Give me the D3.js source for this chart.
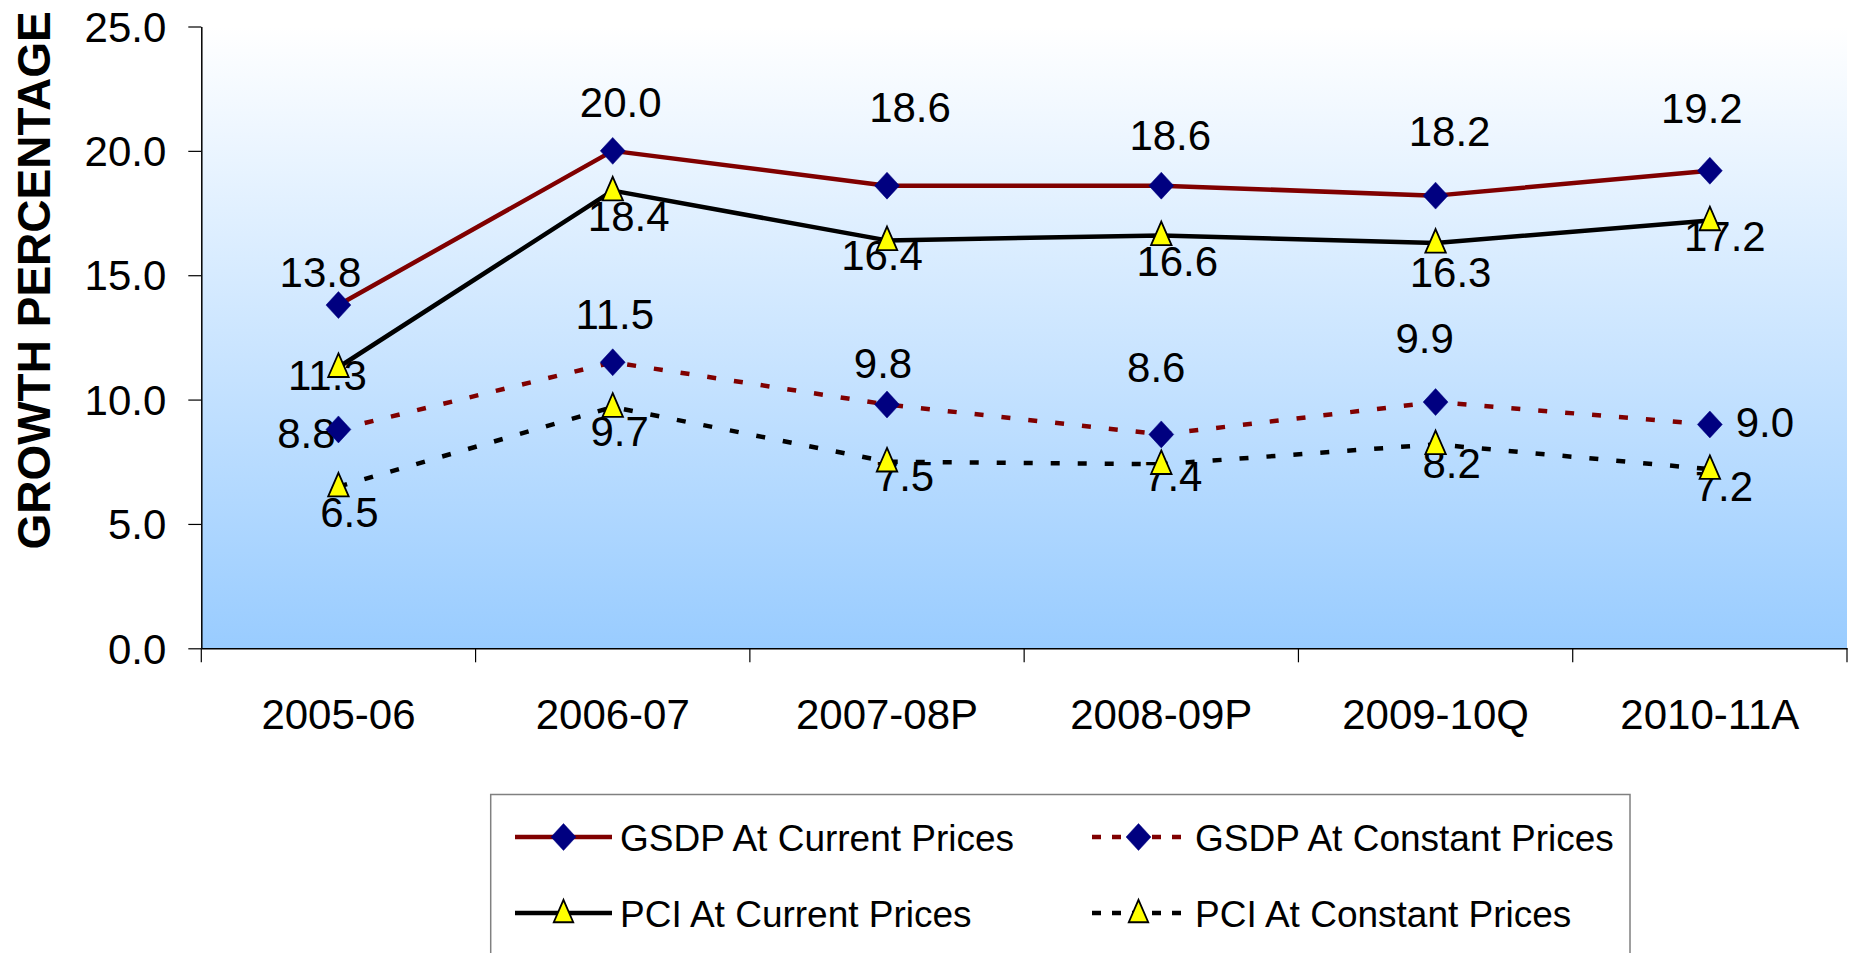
<!DOCTYPE html>
<html>
<head>
<meta charset="utf-8">
<script src="https://cdn.jsdelivr.net/npm/d3@7"></script>
<style>
  html, body { margin: 0; padding: 0; background: #ffffff; }
  svg { display: block; }
  text { font-family: "Liberation Sans", Arial, Helvetica, sans-serif; fill: #000; }
</style>
</head>
<body>
<svg id="chart" width="1854" height="953"></svg>
<script>
// ---------- DATA ----------
const categories = ["2005-06", "2006-07", "2007-08P", "2008-09P", "2009-10Q", "2010-11A"];
const gsdpCurrent  = [13.8, 20.0, 18.6, 18.6, 18.2, 19.2];
const gsdpConstant = [8.8, 11.5, 9.8, 8.6, 9.9, 9.0];
const pciCurrent   = [11.3, 18.4, 16.4, 16.6, 16.3, 17.2];
const pciConstant  = [6.5, 9.7, 7.5, 7.4, 8.2, 7.2];
const yTicks = [0, 5, 10, 15, 20, 25];
const seriesNames = ["GSDP At Current Prices", "GSDP At Constant Prices", "PCI At Current Prices", "PCI At Constant Prices"];
const yTitle = "GROWTH PERCENTAGE";

// data-label offsets (dx, dy of text centre / baseline from the point), as placed in the original
const gsdpCurrentLabelOffsets  = [[-18, -18], [8, -34], [23, -64], [9, -36], [14, -50], [-8, -48]];
const gsdpConstantLabelOffsets = [[-32, 19], [2, -33], [-4, -27], [-5, -52], [-11, -49], [55, 13]];
const pciCurrentLabelOffsets   = [[-11, 23], [16, 40], [-5, 30], [16, 41], [15, 44], [15, 30]];
const pciConstantLabelOffsets  = [[11, 40], [7, 39], [18, 29], [12, 27], [16, 34], [14, 32]];

// ---------- LAYOUT ----------
const plot = { left: 201.3, right: 1847, top: 26.5, bottom: 648.3 };

const svg = d3.select("#chart");

const x = d3.scaleBand().domain(categories).range([plot.left, plot.right]).paddingInner(0).paddingOuter(0);
const y = d3.scaleLinear().domain([0, 25]).range([plot.bottom, plot.top]);
const cx = c => x(c) + x.bandwidth() / 2;

// gradient background
const defs = svg.append("defs");
const grad = defs.append("linearGradient").attr("id", "bg").attr("x1", 0).attr("y1", 0).attr("x2", 0).attr("y2", 1);
grad.append("stop").attr("offset", "0%").attr("stop-color", "#ffffff");
grad.append("stop").attr("offset", "100%").attr("stop-color", "#99ccff");

svg.append("rect")
  .attr("x", plot.left).attr("y", plot.top)
  .attr("width", plot.right - plot.left).attr("height", plot.bottom - plot.top)
  .attr("fill", "url(#bg)");

// Y axis
const yAxis = d3.axisLeft(y).tickValues(yTicks).tickFormat(d3.format(".1f")).tickSize(13).tickSizeOuter(0).tickPadding(22);
const gy = svg.append("g").attr("transform", `translate(${plot.left},0)`).call(yAxis);
gy.select(".domain").attr("stroke", "#000").attr("stroke-width", 1.5);
gy.selectAll(".tick line").attr("stroke", "#000").attr("stroke-width", 1.2);
gy.selectAll(".tick text").attr("font-size", 42).attr("font-family", "Liberation Sans, Arial, sans-serif").attr("fill", "#000").attr("dy", "0.35em");

// X axis (labels at band centres, ticks at band boundaries)
const xAxis = d3.axisBottom(x).tickSize(0).tickSizeOuter(0).tickPadding(0);
const gx = svg.append("g").attr("transform", `translate(0,${plot.bottom})`).call(xAxis);
gx.select(".domain").attr("stroke", "#000").attr("stroke-width", 1.5);
gx.selectAll(".tick text").attr("font-size", 42).attr("font-family", "Liberation Sans, Arial, sans-serif")
  .attr("fill", "#000").attr("y", 81).attr("dy", 0);
const boundaries = categories.map(c => x(c)).concat([x.range()[1]]);
gx.selectAll(".bound").data(boundaries).enter().append("line")
  .attr("class", "bound")
  .attr("x1", d => d).attr("x2", d => d)
  .attr("y1", 0).attr("y2", 14)
  .attr("stroke", "#000").attr("stroke-width", 1.2);

// Y title
svg.append("text")
  .attr("transform", `translate(50,${(plot.top + plot.bottom) / 2 - 57}) rotate(-90)`)
  .attr("text-anchor", "middle")
  .attr("font-size", 46).attr("font-weight", "bold")
  .text(yTitle);

// ---------- SERIES ----------
const triangleType = {
  draw(ctx, size) {
    const s = Math.sqrt(size) / 20;
    ctx.moveTo(0, -13.5 * s);
    ctx.lineTo(10 * s, 9.5 * s);
    ctx.lineTo(-10 * s, 9.5 * s);
    ctx.closePath();
  }
};
const diamondType = {
  draw(ctx, size) {
    const s = Math.sqrt(size) / 20;
    ctx.moveTo(0, -13 * s);
    ctx.lineTo(12 * s, 0);
    ctx.lineTo(0, 13 * s);
    ctx.lineTo(-12 * s, 0);
    ctx.closePath();
  }
};

const series = [
  { name: seriesNames[0], values: gsdpCurrent,  offsets: gsdpCurrentLabelOffsets,  color: "#800000", dash: null,       marker: "diamond" },
  { name: seriesNames[1], values: gsdpConstant, offsets: gsdpConstantLabelOffsets, color: "#800000", dash: "9,18", marker: "diamond" },
  { name: seriesNames[2], values: pciCurrent,   offsets: pciCurrentLabelOffsets,   color: "#000000", dash: null,       marker: "triangle" },
  { name: seriesNames[3], values: pciConstant,  offsets: pciConstantLabelOffsets,  color: "#000000", dash: "9,18", marker: "triangle" }
];

const symbolFor = (m, size) => d3.symbol().type(m === "diamond" ? diamondType : triangleType).size(size);

// data labels (drawn underneath lines/markers, as in the original)
const gLabels = svg.append("g");
series.forEach(s => {
  gLabels.selectAll(null).data(s.values).enter().append("text")
    .attr("x", (d, i) => cx(categories[i]) + s.offsets[i][0])
    .attr("y", (d, i) => y(d) + s.offsets[i][1])
    .attr("text-anchor", "middle")
    .attr("font-size", 42)
    .text(d => d3.format(".1f")(d));
});

const line = d3.line().x((d, i) => cx(categories[i])).y(d => y(d));

series.forEach(s => {
  const g = svg.append("g");
  g.append("path").datum(s.values)
    .attr("d", line)
    .attr("fill", "none")
    .attr("stroke", s.color)
    .attr("stroke-width", 4.5)
    .attr("stroke-dasharray", s.dash)
    .attr("stroke-linejoin", "round");
  g.selectAll("path.mk").data(s.values).enter().append("path")
    .attr("class", "mk")
    .attr("transform", (d, i) => `translate(${cx(categories[i])},${y(d)})`)
    .attr("d", symbolFor(s.marker, s.marker === "diamond" ? 430 : 420))
    .attr("fill", s.marker === "diamond" ? "#000080" : "#ffff00")
    .attr("stroke", s.marker === "diamond" ? "#000080" : "#000")
    .attr("stroke-width", s.marker === "diamond" ? 0.5 : 1.8);
});

// ---------- LEGEND ----------
const legend = svg.append("g");
legend.append("rect")
  .attr("x", 490.7).attr("y", 794.5)
  .attr("width", 1139.3).attr("height", 200)
  .attr("fill", "#ffffff").attr("stroke", "#808080").attr("stroke-width", 1.5);

const legendCols = [515, 1090];
const legendRows = [837, 913];
series.forEach((s, k) => {
  const lx = legendCols[k % 2], ly = legendRows[Math.floor(k / 2)];
  const g = legend.append("g").attr("transform", `translate(${lx},${ly})`);
  g.append("line")
    .attr("x1", 0).attr("x2", 97).attr("y1", 0).attr("y2", 0)
    .attr("stroke", s.color).attr("stroke-width", 4.5)
    .attr("stroke-dasharray", s.dash ? "9,11" : null)
    .attr("stroke-dashoffset", s.dash ? -2 : null);
  g.append("path")
    .attr("transform", "translate(48.5,0)")
    .attr("d", symbolFor(s.marker, s.marker === "diamond" ? 430 : 380)())
    .attr("fill", s.marker === "diamond" ? "#000080" : "#ffff00")
    .attr("stroke", s.marker === "diamond" ? "#000080" : "#000")
    .attr("stroke-width", s.marker === "diamond" ? 0.5 : 1.8);
  g.append("text")
    .attr("x", 105).attr("y", 14)
    .attr("font-size", 37)
    .text(s.name);
});
</script>
</body>
</html>
